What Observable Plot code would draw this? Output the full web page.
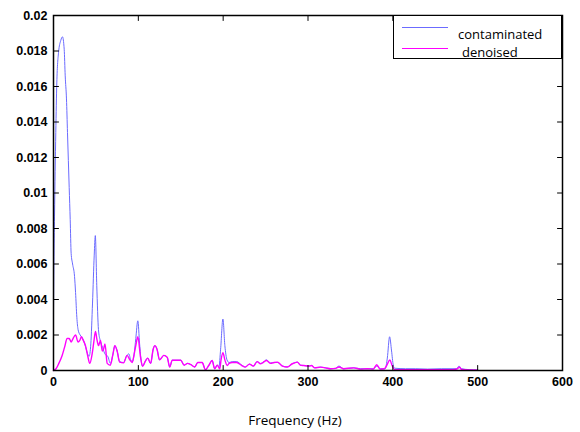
<!DOCTYPE html>
<html><head><meta charset="utf-8">
<script src="https://cdn.jsdelivr.net/npm/d3@7"></script>
<script src="https://cdn.jsdelivr.net/npm/@observablehq/plot@0.6"></script>
<style>
body{margin:0;background:#fff}
#wrap{position:relative;width:580px;height:432px;background:#fff}
#legend{position:absolute;left:393px;top:15px;width:169px;height:44px;border:1px solid #000;background:#fff;box-sizing:border-box;font-family:"Open Sans",sans-serif;font-size:13px;color:#000}
#legend .t{position:absolute;white-space:nowrap;line-height:13px;height:13px}
#xlabel{position:absolute;left:0;width:590px;top:411px;text-align:center;font-family:"Open Sans",sans-serif;font-size:13.5px;color:#000}
</style>
</head><body>
<div id="wrap"></div>
<script>
const xTicks = [0, 100, 200, 300, 400, 500, 600];
const yTicks = [0, 0.002, 0.004, 0.006, 0.008, 0.01, 0.012, 0.014, 0.016, 0.018, 0.02];
const seriesNames = ["contaminated", "denoised"];
const seriesColors = ["#6b6bff", "#ff00ff"];
const xLabel = "Frequency (Hz)";

const freqContaminated = [0,0.5,1.2,2.7,3.9,5.9,8.6,10.6,12.6,13.8,15.3,16.5,18.5,19.7,20.8,22.5,24.8,26,27.5,29,31.4,33,35.4,38,40.5,42,44,46,48,49.3,51,53,55,57.8,61,64,67,70,72.3,75,78,82.6,86,88.8,91,93,95,97,99.4,101.5,103.5,105,108,111,114.5,117.5,119.5,122,125,130,134,137,140,150,154,158,162,166.5,170,175.3,179,183,187,190,193,195,197,199.7,202,204.5,207,210.7,216,222,226,231,235.6,240,244,247,251,256,260,264,270,275.5,281.5,287.5,291,295,301,304,308,314.8,320.7,326.6,332.5,336.5,342,354,362,370,377,381,385,391,393.5,396.2,398.5,400.5,402,415,427,441,457,475,478,481,490,500];
const ampContaminated = [0.0032,0.0060,0.0087,0.0134,0.0162,0.0179,0.0186,0.0188,0.0181,0.0166,0.0153,0.0134,0.0103,0.0085,0.0066,0.0060,0.0053,0.0044,0.0030,0.0023,0.0020,0.0019,0.0017,0.0013,0.0009,0.0008,0.0015,0.0038,0.0065,0.0076,0.0048,0.0023,0.0017,0.0013,0.0009,0.0008,0.0004,0.0009,0.0014,0.0011,0.0005,0.00045,0.0008,0.00094,0.0006,0.0005,0.0009,0.0018,0.0028,0.0015,0.0005,0.00025,0.0005,0.0007,0.0004,0.0012,0.0014,0.0012,0.0006,0.00085,0.00075,0.0002,0.00058,0.00058,0.0003,0.0004,0.00033,0.0002,0.00045,0.00045,0.00005,0.00028,0.00056,0.0001,0.0003,0.0002,0.0012,0.0029,0.0014,0.0006,0.00045,0.0005,0.0005,0.0003,0.0002,0.00036,0.00025,0.0005,0.0004,0.00045,0.0006,0.00042,0.00045,0.00045,0.00025,0.0002,0.00038,0.00047,0.0003,0.00028,0.00025,0.00028,0.00015,0.00019,0.00015,0.0001,0.00012,0.00025,0.0001,0.00015,0.0001,0.0001,0.0001,0.00025,0.0001,0.0001,0.0007,0.0019,0.0011,0.0003,0.00013,0.0001,0.0001,0.00008,0.0001,0.0001,0.00025,0.0001,0.00005,0.00003];

const freqDenoised = [0,3,6.3,10.2,13,16.1,18.5,20.9,23,26,29,31,33,35,37.7,40,42.8,45.6,47.5,49.5,51,53,55.4,57.5,59,60.7,63.3,67,70,72.3,75,78,82.6,86.8,90,92.8,95,97,99.4,102.6,105,108,111,114.5,117.5,119.5,122,125,130,134,137,140,150,154,158,162,166.5,170,175.3,179,183,187,190,193,196,197.5,199.7,202,204.8,207,210.7,216,222,226,231,235.6,240,244,247,251,256,260,264,270,275.5,281.5,287.5,291,295,301,304,308,314.8,320.7,326.6,332.5,336.5,342,354,362,370,377,381,385,390,393,396.5,399,402,415,430,450,470,476,478.5,481,490,500];
const ampDenoised = [0,0.0001,0.0004,0.00085,0.0013,0.0018,0.0018,0.0016,0.0018,0.0020,0.0016,0.0017,0.0019,0.0017,0.0014,0.0009,0.0004,0.00095,0.0016,0.0022,0.0018,0.0014,0.0017,0.0011,0.0012,0.0015,0.0004,0.0003,0.0009,0.0014,0.0011,0.00047,0.00043,0.00085,0.0006,0.00045,0.0009,0.0014,0.0019,0.00075,0.00023,0.0005,0.0007,0.0004,0.0012,0.0014,0.0012,0.0006,0.00085,0.00075,0.0002,0.00058,0.00058,0.0003,0.0004,0.00033,0.0002,0.00045,0.00045,0.00005,0.00028,0.00056,0.0001,0.0003,0.0001,0.0006,0.0010,0.0006,0.00028,0.0004,0.00045,0.00045,0.00028,0.00019,0.00036,0.00025,0.0005,0.00038,0.00045,0.00056,0.0004,0.00045,0.00047,0.00025,0.0002,0.00038,0.00047,0.0003,0.00028,0.00025,0.00028,0.00015,0.00019,0.00015,0.0001,0.00012,0.0002,0.0001,0.00015,0.00008,0.0001,0.00008,0.00032,0.00008,0.0001,0.0003,0.0006,0.0003,0.00005,0.00005,0.00004,0.00005,0.00005,0.0001,0.00018,0.00006,0.00003,0.00002];

function table(fs, as) {
  const n = Math.min(fs.length, as.length);
  return d3.range(n).map(i => ({f: fs[i], a: as[i]}));
}
const contaminated = table(freqContaminated, ampContaminated);
const denoised = table(freqDenoised, ampDenoised);

const tickShape = {draw(context, l) { context.moveTo(0, 0); context.lineTo(0, -l); }};
const tickLen = 5;

const chart = Plot.plot({
  width: 580,
  height: 432,
  marginLeft: 53,
  marginRight: 18,
  marginTop: 15,
  marginBottom: 62,
  style: {fontFamily: "Liberation Sans, Arial, sans-serif", fontSize: "12.5px", fontWeight: "bold", color: "#000", background: "#fff"},
  x: {domain: [0, 600], ticks: xTicks, tickSize: 0, tickPadding: 7, tickFormat: d => String(d), label: null},
  y: {domain: [0, 0.02], ticks: yTicks, tickSize: 0, tickPadding: 6, tickFormat: d => String(d), label: null},
  marks: [
    Plot.line(contaminated, {x: "f", y: "a", stroke: seriesColors[0], strokeWidth: 1, curve: "monotone-x"}),
    Plot.line(denoised, {x: "f", y: "a", stroke: seriesColors[1], strokeWidth: 1.4, curve: "monotone-x"}),
    Plot.vector(xTicks, {x: d => d, y: 0, length: tickLen, rotate: 0, anchor: "start", shape: tickShape, stroke: "#000", strokeWidth: 1}),
    Plot.vector(xTicks, {x: d => d, y: 0.02, length: tickLen, rotate: 180, anchor: "start", shape: tickShape, stroke: "#000", strokeWidth: 1}),
    Plot.vector(yTicks, {x: 0, y: d => d, length: tickLen, rotate: 90, anchor: "start", shape: tickShape, stroke: "#000", strokeWidth: 1}),
    Plot.vector(yTicks, {x: 600, y: d => d, length: tickLen, rotate: 270, anchor: "start", shape: tickShape, stroke: "#000", strokeWidth: 1}),
    Plot.frame({stroke: "#000", strokeWidth: 1.5})
  ]
});
const wrap = document.getElementById("wrap");
wrap.appendChild(chart);

// legend
const legend = document.createElement("div");
legend.id = "legend";
const lineRows = [11, 32];
const textRows = [[64, 12], [68, 30]];
seriesNames.forEach((name, i) => {
  const ln = document.createElement("div");
  ln.style.cssText = `position:absolute;left:8px;top:${lineRows[i]}px;width:46px;height:0;border-top:1.3px solid ${seriesColors[i]}`;
  legend.appendChild(ln);
  const t = document.createElement("div");
  t.className = "t";
  t.style.left = textRows[i][0] + "px";
  t.style.top = textRows[i][1] + "px";
  t.textContent = name;
  legend.appendChild(t);
});
wrap.appendChild(legend);

const xl = document.createElement("div");
xl.id = "xlabel";
xl.textContent = xLabel;
wrap.appendChild(xl);
</script>
</body></html>
